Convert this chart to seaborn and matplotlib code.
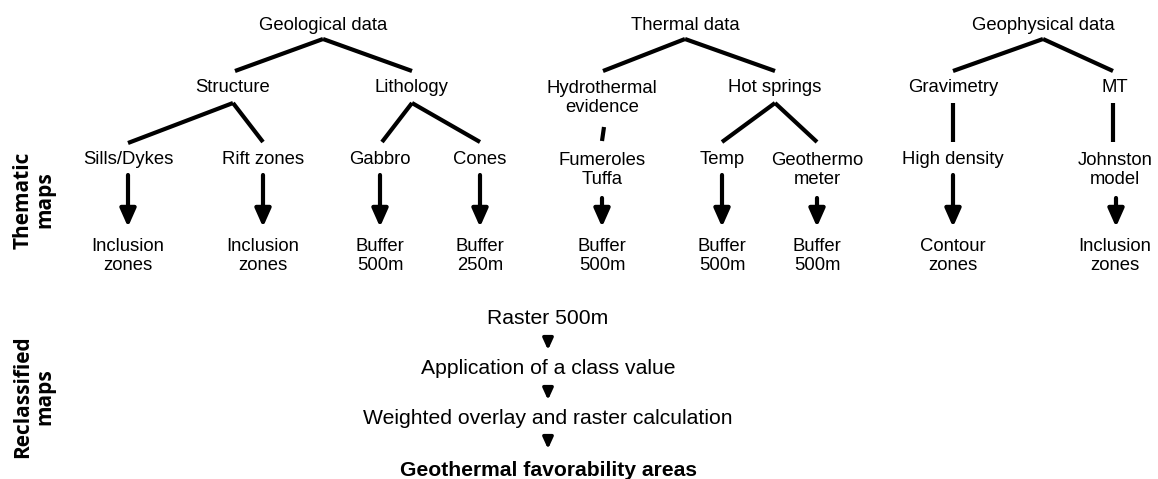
import matplotlib
matplotlib.use("Agg")
import matplotlib.pyplot as plt
import seaborn as sns

sns.set_theme(style="white")
plt.rcParams['font.family'] = ['Liberation Sans', 'DejaVu Sans']
plt.rcParams['text.color'] = 'black'

# tree nodes (label, x, y in pixel space)
node_labels = ["Geological data", "Thermal data", "Geophysical data",
               "Structure", "Lithology", "Hydrothermal\nevidence", "Hot springs",
               "Gravimetry", "MT",
               "Sills/Dykes", "Rift zones", "Gabbro", "Cones", "Fumeroles\nTuffa",
               "Temp", "Geothermo\nmeter", "High density", "Johnston\nmodel",
               "Inclusion\nzones", "Inclusion\nzones", "Buffer\n500m", "Buffer\n250m",
               "Buffer\n500m", "Buffer\n500m", "Buffer\n500m", "Contour\nzones",
               "Inclusion\nzones"]
node_x = [323, 685, 1043,
          233, 411, 602, 775, 953, 1115,
          128, 263, 380, 480, 602, 722, 817, 953, 1115,
          128, 263, 380, 480, 602, 722, 817, 953, 1115]
node_y = [25, 25, 25,
          87, 87, 98, 87, 87, 87,
          159, 159, 159, 159, 170, 159, 170, 159, 170,
          256, 256, 256, 256, 256, 256, 256, 256, 256]

# branch connectors: (x0, y0, x1, y1)
edges = [(323, 39, 235, 71), (323, 39, 412, 71),
         (685, 39, 603, 71), (685, 39, 775, 71),
         (1043, 39, 953, 71), (1043, 39, 1113, 71),
         (233, 103, 128, 143), (233, 103, 263, 142),
         (412, 103, 382, 142), (412, 103, 480, 142),
         (604, 127, 602, 141),
         (775, 103, 722, 142), (775, 103, 817, 142),
         (953, 103, 953, 142), (1113, 103, 1113, 142)]

# arrows to thematic maps
arrow_x = [128, 263, 380, 480, 602, 722, 817, 953, 1116]
arrow_top = [175, 175, 175, 175, 198, 175, 198, 175, 198]
arrow_bottom = 227

# reclassification steps
steps = ["Raster 500m", "Application of a class value",
         "Weighted overlay and raster calculation"]
final_step = "Geothermal favorability areas"
steps_x = 548
steps_y = [319, 369, 418, 470]

side_labels = ["Thematic\nmaps", "Reclassified\nmaps"]
side_y = [200, 397]

fig = plt.figure(figsize=(11.58, 4.79), dpi=100)
ax = fig.add_axes([0, 0, 1, 1])
ax.set_xlim(0, 1158)
ax.set_ylim(479, 0)
ax.axis("off")

for lab, x, y in zip(node_labels, node_x, node_y):
    ax.text(x, y, lab, ha="center", va="center", fontsize=13.3,
            linespacing=1.15, color="black")

for x0, y0, x1, y1 in edges:
    ax.plot([x0, x1], [y0, y1], color="black", lw=3, solid_capstyle="butt")

for x, top in zip(arrow_x, arrow_top):
    ax.annotate("", xy=(x, arrow_bottom), xytext=(x, top),
                arrowprops=dict(arrowstyle="-|>,head_width=0.4,head_length=0.9",
                                lw=3, color="black", shrinkA=0, shrinkB=0))

for lab, y in zip(steps, steps_y[:3]):
    ax.text(steps_x, y, lab, ha="center", va="center", fontsize=15.2,
            color="black")
ax.text(steps_x, steps_y[3], final_step, ha="center", va="center",
        fontsize=15.2, fontweight="bold", color="black")

for i in range(3):
    ax.annotate("", xy=(steps_x, steps_y[i] + 31), xytext=(steps_x, steps_y[i] + 19),
                arrowprops=dict(arrowstyle="-|>,head_width=0.25,head_length=0.55",
                                lw=2.5, color="black", shrinkA=0, shrinkB=0))

for lab, y in zip(side_labels, side_y):
    ax.text(34, y, lab, ha="center", va="center", rotation=90, fontsize=15,
            fontweight="bold", family=["Open Sans", "DejaVu Sans"],
            linespacing=1.1, color="black")

fig.savefig("out.png", dpi=100)
